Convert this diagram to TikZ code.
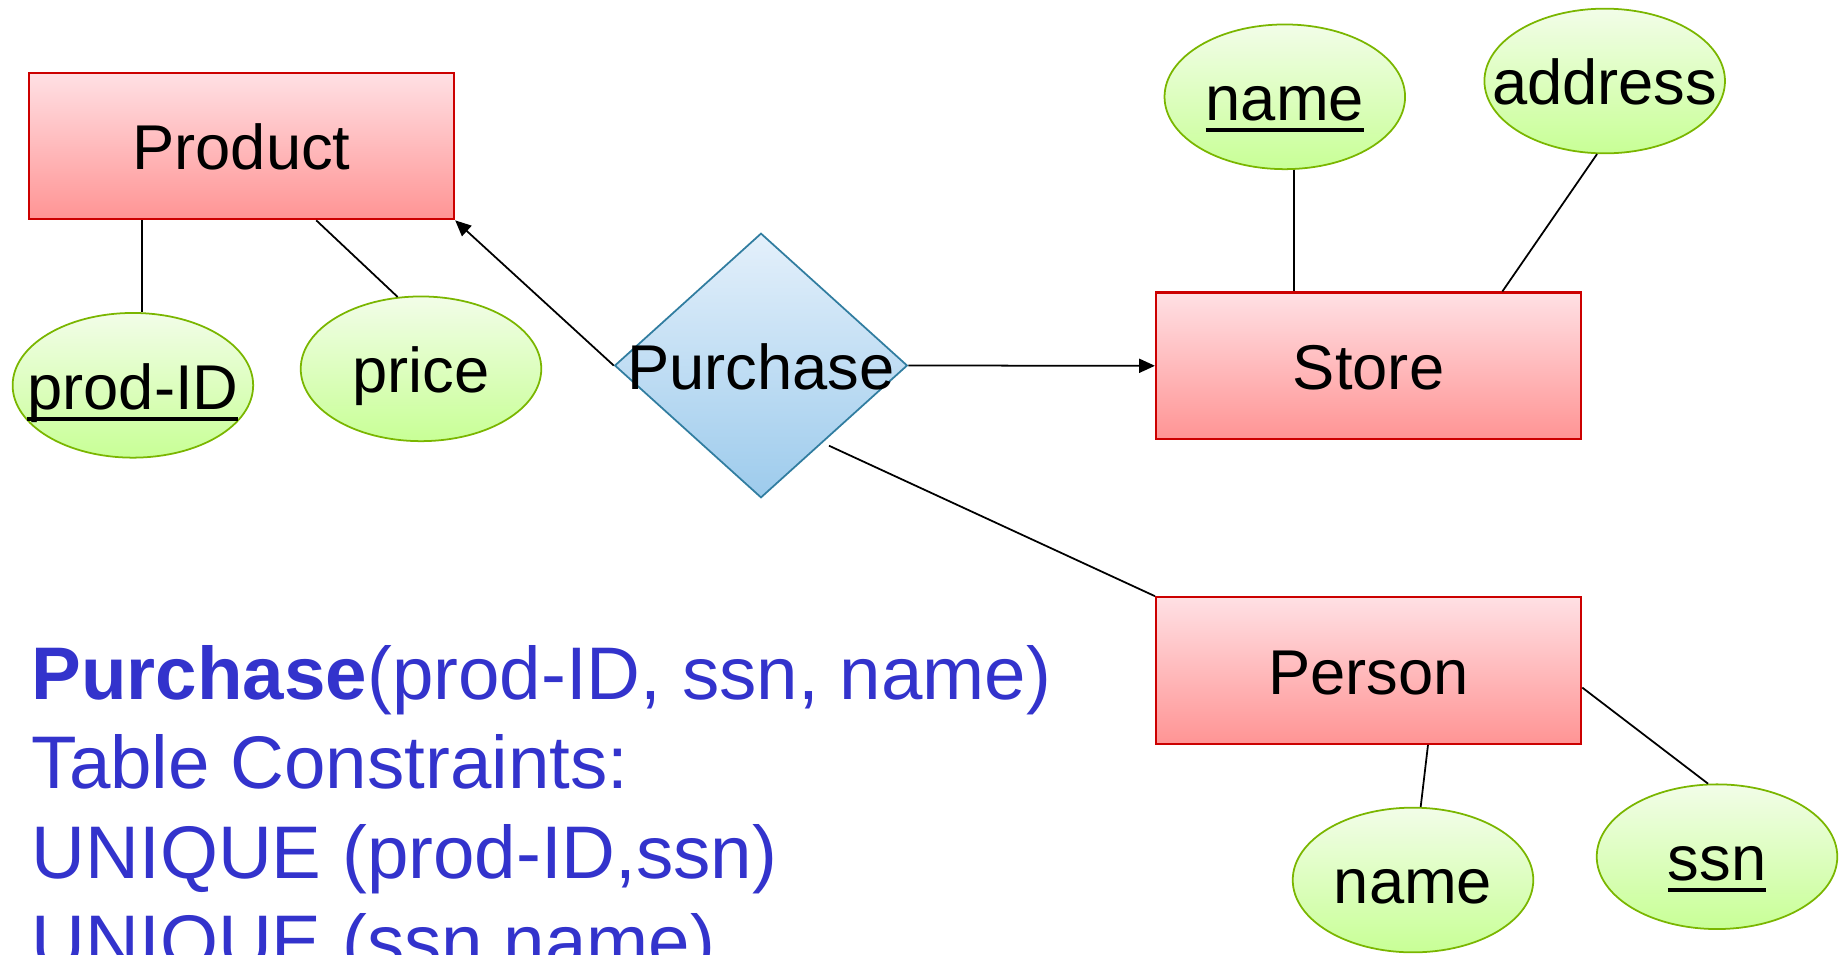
\documentclass[tikz,border=0pt]{standalone}
\usepackage{fontspec}
\setmainfont{Liberation Sans}
\usetikzlibrary{shapes.geometric,arrows.meta,calc}

\definecolor{entline}{RGB}{204,0,0}
\definecolor{enttop}{RGB}{255,224,228}
\definecolor{entbot}{RGB}{255,148,148}
\definecolor{attline}{RGB}{122,182,0}
\definecolor{atttop}{RGB}{242,253,232}
\definecolor{attbot}{RGB}{200,255,150}
\definecolor{relline}{RGB}{49,125,160}
\definecolor{reltop}{RGB}{228,240,251}
\definecolor{relbot}{RGB}{157,203,236}
\definecolor{schema}{RGB}{51,51,204}

% key attribute: text with a thick underline
\newcommand\keyattr[1]{\setbox0\hbox{#1}\rlap{\rule[-3.35pt]{\wd0}{1.1pt}}\box0}

\begin{document}
\begin{tikzpicture}[x=0.01cm, y=-0.01cm,
  label font/.style={font=\fontsize{18}{20}\selectfont, text height=13.5pt, text depth=0pt, inner sep=0pt},
  entity/.style={rectangle, draw=entline, line width=0.6pt, top color=enttop, bottom color=entbot,
                 minimum width=4.25cm, minimum height=1.465cm, inner sep=0pt, label font},
  attrib/.style={ellipse, draw=attline, line width=0.5pt, top color=atttop, bottom color=attbot,
                 minimum width=2.404cm, minimum height=1.446cm, inner sep=0pt},
  relship/.style={diamond, draw=relline, line width=0.5pt, top color=reltop, bottom color=relbot,
                  minimum width=2.926cm, minimum height=2.644cm, inner sep=0pt},
  txt/.style={label font},
  conn/.style={line width=0.5pt},
  vconn/.style={line width=0.65pt},
  arr/.style={line width=0.5pt, -{Triangle[length=4.5pt,width=4pt]}},
  schemaline/.style={anchor=base west, inner sep=0pt, text=schema, font=\fontsize{21.2}{25}\selectfont}
]
\useasboundingbox (0,0) rectangle (1848,954);

% entities
\node[entity] (product) at (241.5,146) {Product};
\node[entity] (store) at (1368.6,365.8) {Store};
\node[entity] (person) at (1368.6,670.5) {Person};

% relationship
\node[relship] (purchase) at (761,365.5) {};
\node[txt] (purchase-t) at (purchase) {Purchase};

% attributes
\node[attrib] (prodid) at (132.9,385.3) {};
\node[txt] (prodid-t) at (prodid) {\keyattr{prod-ID}};
\node[attrib] (price) at (421,368.8) {};
\node[txt] (price-t) at (price) {price};
\node[attrib] (sname) at (1284.8,96.8) {};
\node[txt] (sname-t) at (sname) {\keyattr{name}};
\node[attrib] (address) at (1604.7,81) {};
\node[txt] (address-t) at (address) {address};
\node[attrib] (pname) at (1413,880) {};
\node[txt] (pname-t) at (pname) {name};
\node[attrib] (ssn) at (1717,856.7) {};
\node[txt] (ssn-t) at (ssn) {\keyattr{ssn}};

% attribute links
\draw[vconn] (prodid.83) -- (prodid.83 |- product.south);
\draw[conn] ($(product.south west)!0.675!(product.south east)$) -- (price.108);
\draw[vconn] (sname.277) -- (sname.277 |- store.north);
\draw[conn] (address.264) -- ($(store.north west)!0.813!(store.north east)$);
\draw[conn] ($(person.south west)!0.639!(person.south east)$) -- (pname.84);
\draw[conn] ($(person.north east)!0.615!(person.south east)$) -- (ssn.97);

% relationship links
\draw[arr] (purchase.west) -- (product.south east);
\draw[arr] (purchase.east) -- (store.west);
\coordinate (purchase-se) at (829,445.7);
\draw[conn] (purchase-se) -- (person.north west);

% relational schema
\node[schemaline] (s1) at (31,699.3) {\textbf{Purchase}(prod-ID, ssn, name)};
\node[schemaline] (s2) at (31,788.8) {Table Constraints:};
\node[schemaline] (s3) at (31,878.3) {UNIQUE (prod-ID,ssn)};
\node[schemaline] (s4) at (31,967.8) {UNIQUE (ssn,name)};
\end{tikzpicture}
\end{document}
